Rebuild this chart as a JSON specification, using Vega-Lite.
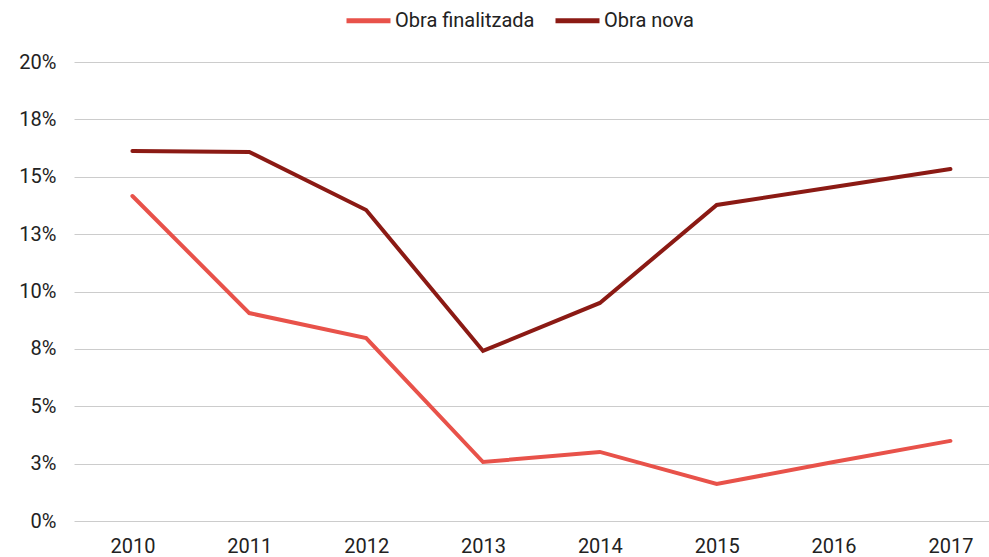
{
  "$schema": "https://vega.github.io/schema/vega-lite/v6.json",
  "autosize": {"type": "none"},
  "padding": {"left": 74, "top": 62, "right": 0, "bottom": 36},
  "width": 915,
  "height": 459,
  "background": "white",
  "config": {
    "font": "Roboto",
    "view": {"stroke": null}
  },
  "data": {
    "values": [
      {"year": 2010, "serie": "Obra finalitzada", "value": 14.16},
      {"year": 2011, "serie": "Obra finalitzada", "value": 9.06},
      {"year": 2012, "serie": "Obra finalitzada", "value": 7.97},
      {"year": 2013, "serie": "Obra finalitzada", "value": 2.57},
      {"year": 2014, "serie": "Obra finalitzada", "value": 3.01},
      {"year": 2015, "serie": "Obra finalitzada", "value": 1.61},
      {"year": 2016, "serie": "Obra finalitzada", "value": 2.57},
      {"year": 2017, "serie": "Obra finalitzada", "value": 3.49},
      {"year": 2010, "serie": "Obra nova", "value": 16.12},
      {"year": 2011, "serie": "Obra nova", "value": 16.08},
      {"year": 2012, "serie": "Obra nova", "value": 13.55},
      {"year": 2013, "serie": "Obra nova", "value": 7.41},
      {"year": 2014, "serie": "Obra nova", "value": 9.5},
      {"year": 2015, "serie": "Obra nova", "value": 13.77},
      {"year": 2016, "serie": "Obra nova", "value": 14.55},
      {"year": 2017, "serie": "Obra nova", "value": 15.34}
    ]
  },
  "mark": {"type": "line", "strokeWidth": 4, "strokeCap": "round", "clip": false},
  "encoding": {
    "x": {
      "field": "year",
      "type": "quantitative",
      "scale": {"domain": [2009.5, 2017.33], "nice": false, "zero": false},
      "axis": {
        "title": null,
        "values": [2010, 2011, 2012, 2013, 2014, 2015, 2016, 2017],
        "format": "d",
        "grid": false,
        "domain": false,
        "ticks": false,
        "labelFontSize": 20,
        "labelColor": "#222222",
        "labelPadding": 15
      }
    },
    "y": {
      "field": "value",
      "type": "quantitative",
      "scale": {"domain": [0, 20], "nice": false},
      "axis": {
        "title": null,
        "values": [0, 2.5, 5, 7.5, 10, 12.5, 15, 17.5, 20],
        "labelExpr": "round(datum.value) + '%'",
        "grid": true,
        "gridColor": "#cccccc",
        "gridWidth": 1,
        "domain": false,
        "ticks": false,
        "labelFontSize": 20,
        "labelColor": "#222222",
        "labelPadding": 18
      }
    },
    "color": {
      "field": "serie",
      "type": "nominal",
      "scale": {"domain": ["Obra finalitzada", "Obra nova"], "range": ["#e8524a", "#8b1a14"]},
      "legend": {
        "title": null,
        "orient": "none",
        "direction": "horizontal",
        "legendX": 270,
        "legendY": -66,
        "symbolType": "stroke",
        "symbolSize": 1936,
        "symbolStrokeWidth": 5,
        "labelFontSize": 20,
        "labelColor": "#222222",
        "labelOffset": 2,
        "columnPadding": 10
      }
    }
  }
}
